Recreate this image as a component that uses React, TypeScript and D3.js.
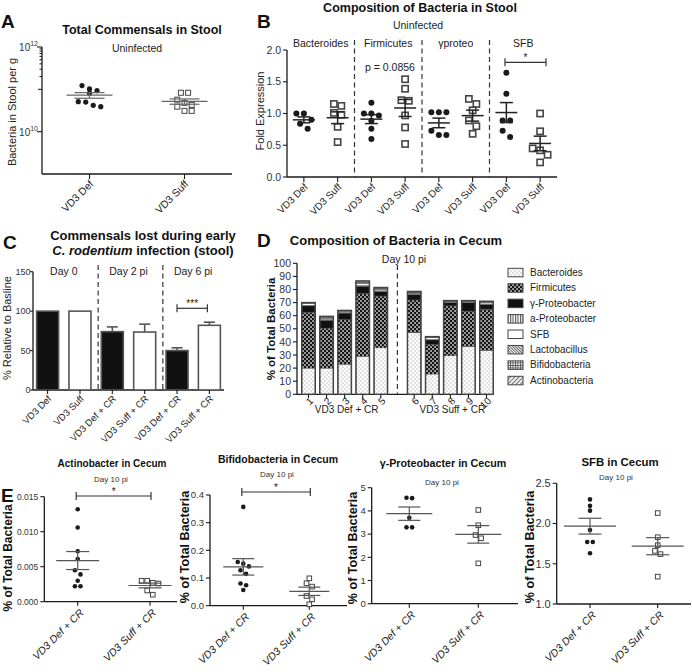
import React from "react";
import * as d3 from "d3";

const FONT = "'Liberation Sans', Arial, Helvetica, sans-serif";
const INK = "#1a1a1a";
const GREY = "#444";
const TICKC = "#333";

// ===== Panel A: total commensals (bacteria per g stool) =====
const aCategories = ["VD3 Def", "VD3 Suff"];
const aDef = [1.23e11, 9.3e10, 8.1e10, 1.02e11, 5.0e10, 3.9e10, 4.2e10, 5.1e10];
const aSuff = [8.3e10, 8.3e10, 4.8e10, 3.9e10, 5.7e10, 3.1e10, 3.1e10, 4.3e10];
const aLabelTicks = [1e10, 1e12];
const aMinorTicks = [2e11, 3e11, 4e11, 5e11, 6e11, 7e11, 8e11, 9e11, 1e11];

// ===== Panel B: composition in stool (fold expression) =====
const bSections = ["Bacteroides", "Firmicutes", "γproteo", "SFB"];
const bCategories = ["VD3 Def", "VD3 Suff"];
const bBacteroidesDef = [1.0, 1.0, 0.9, 0.84, 0.76];
const bBacteroidesSuff = [1.15, 1.12, 1.01, 0.98, 0.79, 0.55];
const bFirmicutesDef = [1.17, 1.0, 1.0, 0.97, 0.88, 0.76, 0.6];
const bFirmicutesSuff = [1.54, 1.39, 1.21, 1.2, 0.97, 0.78, 0.52];
const bGammaDef = [1.02, 1.02, 1.02, 0.73, 0.66, 0.66];
const bGammaSuff = [1.23, 1.15, 1.05, 0.89, 0.8, 0.68];
const bSfbDef = [1.64, 1.31, 0.89, 0.89, 0.73, 0.63];
const bSfbSuff = [1.0, 0.72, 0.45, 0.42, 0.35, 0.23];
const bTicks = [0, 0.5, 1.0, 1.5, 2.0];

// ===== Panel C: commensals lost during infection =====
const cLabels = ["VD3 Def", "VD3 Suff", "VD3 Def + CR", "VD3 Suff + CR", "VD3 Def + CR", "VD3 Suff + CR"];
const cValues = [100, 100, 74, 73.5, 50, 82];
const cErrors = [0, 0, 6, 10, 3.5, 4];
const cSections = ["Day 0", "Day 2 pi", "Day 6 pi"];
const cTicks = [0, 50, 100, 150];

// ===== Panel D: composition in cecum (% of total) =====
const dSamples = ["1", "2", "3", "4", "5", "6", "7", "8", "9", "10"];
const dBacteroides = [20, 20, 23, 29, 35.5, 47, 15.5, 29.5, 36.5, 33.5];
const dFirmicutes = [42.5, 30.5, 34, 48, 39.5, 25, 22.5, 38, 27, 31.5];
const dGammaProteo = [5, 6, 5, 5.5, 3.5, 4, 3.5, 2.5, 6.5, 3.5];
const dAlphaProteo = [0.4, 0.5, 0.4, 0.5, 0.5, 0.5, 0.3, 0.3, 0.3, 0.5];
const dSFB = [1.6, 1.0, 1.0, 1.5, 1.0, 0.5, 1.5, 0.5, 0.7, 1.0];
const dLactobacillus = [0.2, 0.5, 0.3, 0.5, 0.5, 0.5, 0.3, 0.3, 0.2, 0.4];
const dBifidobacteria = [0.2, 0.5, 0.2, 0.5, 0.5, 0.5, 0.2, 0.2, 0.2, 0.3];
const dActinobacteria = [0.1, 0.5, 0.1, 1.0, 0.5, 0.5, 0.2, 0.2, 0.1, 0.3];
const dTaxa = ["Bacteroides", "Firmicutes", "γ-Proteobacter", "a-Proteobacter", "SFB", "Lactobacillus", "Bifidobacteria", "Actinobacteria"];
const dGroups = ["VD3 Def + CR", "VD3 Suff + CR"];
const dTicks = [0, 10, 20, 30, 40, 50, 60, 70, 80, 90, 100];

// ===== Panel E: individual taxa in cecum =====
const eCategories = ["VD3 Def + CR", "VD3 Suff + CR"];
const eActinoDef = [0.0132, 0.0106, 0.0072, 0.0061, 0.0045, 0.0039, 0.003, 0.0022, 0.0022];
const eActinoSuff = [0.003, 0.0027, 0.0026, 0.003, 0.0016, 0.001];
const eBifidoDef = [0.357, 0.158, 0.152, 0.142, 0.128, 0.115, 0.08, 0.074, 0.057];
const eBifidoSuff = [0.099, 0.081, 0.069, 0.035, 0.023, 0.005];
const eGammaDef = [4.55, 4.57, 3.7, 3.29, 3.29];
const eGammaSuff = [4.04, 3.38, 2.96, 2.82, 1.74];
const eSfbDef = [2.3, 2.22, 2.16, 1.92, 1.77, 1.77, 1.63];
const eSfbSuff = [2.13, 1.83, 1.73, 1.66, 1.62, 1.34];
const eActinoTicks = [0, 0.005, 0.01, 0.015];
const eBifidoTicks = [0, 0.1, 0.2, 0.3, 0.4];
const eGammaTicks = [0, 1, 2, 3, 4, 5];
const eSfbTicks = [1.0, 1.5, 2.0, 2.5];

function swarmOffsets(ys: number[], d: number): number[] {
  const idx = d3.range(ys.length).sort((a, b) => ys[a] - ys[b]);
  const out = new Array(ys.length).fill(0);
  let row: number[] = [];
  let rowY = -Infinity;
  const flush = () => {
    row.forEach((i, j) => (out[i] = (j - (row.length - 1) / 2) * d));
  };
  for (const i of idx) {
    if (ys[i] - rowY >= d * 0.85) {
      flush();
      row = [i];
      rowY = ys[i];
    } else row.push(i);
  }
  flush();
  return out;
}

function DotGroup(props: {
  cx: number; vals: number[]; y: (v: number) => number; shape: "dot" | "sq"; r: number;
  meanW: number; semW: number; color: string; lw: number; gap: number; sqStroke?: number;
}) {
  const { cx, vals, y, shape, r, meanW, semW, color, lw, gap } = props;
  const ys = vals.map((v) => y(v));
  const offs = swarmOffsets(ys, gap);
  const m = d3.mean(vals) as number;
  const s = (d3.deviation(vals) as number) / Math.sqrt(vals.length);
  return (
    <g>
      {ys.map((py, i) =>
        shape === "dot" ? (
          <circle key={i} cx={cx + offs[i]} cy={py} r={r} fill={INK} />
        ) : (
          <rect key={i} x={cx + offs[i] - r} y={py - r} width={2 * r} height={2 * r} fill="#fff" stroke={GREY} strokeWidth={props.sqStroke ?? 1.3} />
        )
      )}
      <line x1={cx - meanW / 2} x2={cx + meanW / 2} y1={y(m)} y2={y(m)} stroke={color} strokeWidth={lw} />
      <line x1={cx - semW / 2} x2={cx + semW / 2} y1={y(m + s)} y2={y(m + s)} stroke={color} strokeWidth={lw} />
      <line x1={cx - semW / 2} x2={cx + semW / 2} y1={y(m - s)} y2={y(m - s)} stroke={color} strokeWidth={lw} />
      <line x1={cx} x2={cx} y1={y(m + s)} y2={y(m - s)} stroke={color} strokeWidth={lw} />
    </g>
  );
}

function RotLabel(props: { x: number; y: number; text: string; size: number; italic?: boolean }) {
  return (
    <text
      transform={`translate(${props.x},${props.y}) rotate(-45)`}
      textAnchor="end"
      dy="0.35em"
      fontSize={props.size}
      fontStyle={props.italic ? "italic" : "normal"}
      fill="#222"
    >
      {props.text}
    </text>
  );
}

function Bracket(props: { x1: number; x2: number; y: number; label: string; size: number }) {
  const { x1, x2, y } = props;
  return (
    <g stroke="#333" strokeWidth={1.2}>
      <line x1={x1} x2={x2} y1={y} y2={y} />
      <line x1={x1} x2={x1} y1={y - 4} y2={y + 4} />
      <line x1={x2} x2={x2} y1={y - 4} y2={y + 4} />
      <text x={(x1 + x2) / 2} y={y - 1} textAnchor="middle" fontSize={props.size} stroke="none" fill="#222">
        {props.label}
      </text>
    </g>
  );
}

function EPanel(props: {
  title: string; titleSize: number; titleX: number; titleY: number; dayX: number; dayY: number;
  axisX: number; axisEnd: number; yScale: d3.ScaleLinear<number, number>; ticks: number[];
  fmt: (v: number) => string; tickSize: number; xFirst: number; xLast: number;
  def: number[]; suff: number[]; meanW: number; semW: number; yTitleX: number; yTitleY: number; yTitleSize: number;
  bracket?: { y: number };
}) {
  const p = props;
  const y = p.yScale;
  const [y0, y1] = y.range();
  const x = d3.scalePoint<string>().domain(eCategories).range([p.xFirst, p.xLast]);
  return (
    <g>
      <text x={p.titleX} y={p.titleY} textAnchor="middle" fontWeight="bold" fontSize={p.titleSize} fill="#111">{p.title}</text>
      <text x={p.dayX} y={p.dayY} textAnchor="middle" fontSize={8} fill="#333">Day 10 pi</text>
      <text transform={`translate(${p.yTitleX},${p.yTitleY}) rotate(-90)`} textAnchor="middle" dy="0.35em" fontWeight="bold" fontSize={p.yTitleSize} fill="#111">
        % of Total  Bacteria
      </text>
      <line x1={p.axisX} x2={p.axisX} y1={y1} y2={y0} stroke={INK} strokeWidth={1.3} />
      <line x1={p.axisX} x2={p.axisEnd} y1={y0} y2={y0} stroke={INK} strokeWidth={1.3} />
      {p.ticks.map((t) => (
        <g key={t}>
          <line x1={p.axisX - 4} x2={p.axisX} y1={y(t)} y2={y(t)} stroke={INK} strokeWidth={1.1} />
          <text x={p.axisX - 6} y={y(t)} dy="0.35em" textAnchor="end" fontSize={p.tickSize} fill={TICKC}>{p.fmt(t)}</text>
        </g>
      ))}
      {eCategories.map((c) => (
        <g key={c}>
          <line x1={x(c)} x2={x(c)} y1={y0} y2={y0 + 4} stroke={INK} strokeWidth={1.1} />
          <RotLabel x={(x(c) as number) + 4} y={y0 + 9} text={c} size={10.5} italic />
        </g>
      ))}
      <DotGroup cx={x(eCategories[0]) as number} vals={p.def} y={y} shape="dot" r={2.3} meanW={p.meanW} semW={p.semW} color="#555" lw={1.2} gap={5.6} />
      <DotGroup cx={x(eCategories[1]) as number} vals={p.suff} y={y} shape="sq" r={2.3} meanW={p.meanW} semW={p.semW} color="#555" lw={1.2} gap={5.6} sqStroke={1} />
      {p.bracket && (
        <Bracket x1={(x(eCategories[0]) as number) - 1.5} x2={(x(eCategories[1]) as number) + 1} y={p.bracket.y} label="*" size={10} />
      )}
    </g>
  );
}

export default function App() {
  // ---------- Panel A ----------
  const aY = d3.scaleLog().domain([1e9, 1e12]).range([174, 47]);
  const aX = d3.scalePoint<string>().domain(aCategories).range([42, 232]).padding(0.5);

  // ---------- Panel B ----------
  const bY = d3.scaleLinear().domain([0, 2]).range([177, 50]);
  const bKeys = bSections.flatMap((s) => bCategories.map((c) => s + "|" + c));
  const bX = d3.scalePoint<string>().domain(bKeys).range([287, 557]).padding(0.5);
  const bData: number[][] = [bBacteroidesDef, bBacteroidesSuff, bFirmicutesDef, bFirmicutesSuff, bGammaDef, bGammaSuff, bSfbDef, bSfbSuff];
  const bStep = bX.step();

  // ---------- Panel C ----------
  const cY = d3.scaleLinear().domain([0, 150]).range([390, 271.7]);
  const cIdx = cLabels.map((_, i) => String(i));
  const cX = d3.scaleBand<string>().domain(cIdx).range([35, 222]).paddingInner(0.32).paddingOuter(0.05);
  const cBw = cX.bandwidth();
  const cStep = cX.step();

  // ---------- Panel D ----------
  const dY = d3.scaleLinear().domain([0, 100]).range([394.3, 263.3]);
  const dPos = d3.scaleLinear().domain([0, 9.85]).range([308.5, 486.5]);
  const dIndex = dSamples.map((_, i) => (i < 5 ? i : i + 0.85));
  const dRows = dSamples.map((s, i) => ({
    sample: s,
    "Bacteroides": dBacteroides[i],
    "Firmicutes": dFirmicutes[i],
    "γ-Proteobacter": dGammaProteo[i],
    "a-Proteobacter": dAlphaProteo[i],
    "SFB": dSFB[i],
    "Lactobacillus": dLactobacillus[i],
    "Bifidobacteria": dBifidobacteria[i],
    "Actinobacteria": dActinobacteria[i],
  }));
  const dStack = d3.stack<any>().keys(dTaxa)(dRows);
  const dFills = ["url(#pBact)", "url(#pFirm)", "#111", "url(#pAlpha)", "#fff", "url(#pLacto)", "url(#pBifido)", "url(#pActino)"];
  const dBw = 13.5;

  return (
    <svg width={692} height={672} style={{ position: "absolute", left: 0, top: 0, background: "#fff" }} fontFamily={FONT}>
      <defs>
        <pattern id="pBact" width="4" height="4" patternUnits="userSpaceOnUse">
          <rect width="4" height="4" fill="#fff" />
          <rect x="0.5" y="0.5" width="1" height="1" fill="#8a8a8a" />
          <rect x="2.5" y="2.5" width="1" height="1" fill="#8a8a8a" />
        </pattern>
        <pattern id="pFirm" width="4" height="4" patternUnits="userSpaceOnUse">
          <rect width="4" height="4" fill="#151515" />
          <rect x="0.3" y="0.3" width="1.5" height="1.5" fill="#fff" />
          <rect x="2.3" y="2.3" width="1.5" height="1.5" fill="#fff" />
        </pattern>
        <pattern id="pAlpha" width="2.5" height="4" patternUnits="userSpaceOnUse">
          <rect width="2.5" height="4" fill="#fff" />
          <line x1="0.6" x2="0.6" y1="0" y2="4" stroke="#333" strokeWidth="0.9" />
        </pattern>
        <pattern id="pLacto" width="2" height="2" patternUnits="userSpaceOnUse" patternTransform="rotate(45)">
          <rect width="2" height="2" fill="#fff" />
          <line x1="0" x2="2" y1="0.5" y2="0.5" stroke="#555" strokeWidth="0.9" />
        </pattern>
        <pattern id="pBifido" width="2.5" height="2.5" patternUnits="userSpaceOnUse">
          <rect width="2.5" height="2.5" fill="#fff" />
          <line x1="0.5" x2="0.5" y1="0" y2="2.5" stroke="#444" strokeWidth="0.8" />
          <line x1="0" x2="2.5" y1="0.5" y2="0.5" stroke="#444" strokeWidth="0.8" />
        </pattern>
        <pattern id="pActino" width="3" height="3" patternUnits="userSpaceOnUse" patternTransform="rotate(-45)">
          <rect width="3" height="3" fill="#fff" />
          <line x1="0" x2="3" y1="0.7" y2="0.7" stroke="#444" strokeWidth="0.9" />
        </pattern>
      </defs>

      {/* ================= Panel A ================= */}
      <text x={1} y={28} fontWeight="bold" fontSize={19} fill="#111">A</text>
      <text x={142} y={34} textAnchor="middle" fontWeight="bold" fontSize={12.5} fill="#111">Total Commensals in Stool</text>
      <text x={137} y={52} textAnchor="middle" fontSize={10.5} fill="#222">Uninfected</text>
      <text transform="translate(12,112) rotate(-90)" textAnchor="middle" dy="0.35em" fontSize={11} fill="#222">Bacteria in Stool per g</text>
      <line x1={42} x2={42} y1={47} y2={174} stroke={INK} strokeWidth={1.3} />
      <line x1={42} x2={232} y1={174} y2={174} stroke={INK} strokeWidth={1.3} />
      {aMinorTicks.map((t) => (
        <line key={t} x1={42 - (t === 1e11 ? 4 : 2.5)} x2={42} y1={aY(t)} y2={aY(t)} stroke={INK} strokeWidth={1} />
      ))}
      {aLabelTicks.map((t) => (
        <g key={t}>
          <line x1={37} x2={42} y1={aY(t)} y2={aY(t)} stroke={INK} strokeWidth={1.1} />
          <text x={38} y={aY(t) + 4} textAnchor="end" fontSize={10} fill={TICKC}>
            10<tspan dy={-5} fontSize={7}>{Math.round(Math.log10(t))}</tspan>
          </text>
        </g>
      ))}
      {aCategories.map((c) => (
        <g key={c}>
          <line x1={aX(c)} x2={aX(c)} y1={174} y2={179} stroke={INK} strokeWidth={1.1} />
          <RotLabel x={(aX(c) as number) + 2} y={182} text={c} size={10.5} />
        </g>
      ))}
      <DotGroup cx={aX("VD3 Def") as number} vals={aDef} y={aY} shape="dot" r={2.6} meanW={46} semW={30} color="#666" lw={1.2} gap={7.5} />
      <DotGroup cx={aX("VD3 Suff") as number} vals={aSuff} y={aY} shape="sq" r={2.5} meanW={46} semW={30} color="#666" lw={1.2} gap={7.2} sqStroke={1} />

      {/* ================= Panel B ================= */}
      <text x={257} y={28} fontWeight="bold" fontSize={19} fill="#111">B</text>
      <text x={420} y={12} textAnchor="middle" fontWeight="bold" fontSize={12.5} fill="#111">Composition of Bacteria in Stool</text>
      <text x={418} y={29} textAnchor="middle" fontSize={10.5} fill="#222">Uninfected</text>
      <text transform="translate(260,111) rotate(-90)" textAnchor="middle" dy="0.35em" fontSize={11} fill="#222">Fold Expression</text>
      <line x1={287} x2={287} y1={50} y2={177} stroke={INK} strokeWidth={1.3} />
      <line x1={287} x2={557} y1={177} y2={177} stroke={INK} strokeWidth={1.3} />
      {bTicks.map((t) => (
        <g key={t}>
          <line x1={283} x2={287} y1={bY(t)} y2={bY(t)} stroke={INK} strokeWidth={1.1} />
          <text x={281} y={bY(t)} dy="0.35em" textAnchor="end" fontSize={10.5} fill={TICKC}>{t.toFixed(1)}</text>
        </g>
      ))}
      {bSections.map((s, i) => {
        const cx = ((bX(s + "|" + bCategories[0]) as number) + (bX(s + "|" + bCategories[1]) as number)) / 2;
        const bx = (bX(s + "|" + bCategories[0]) as number) - bStep / 2;
        return (
          <g key={s}>
            <text x={cx} y={47} textAnchor="middle" fontSize={10.5} fill="#222">{s}</text>
            {i > 0 && <line x1={bx} x2={bx} y1={40} y2={177} stroke="#333" strokeWidth={1.2} strokeDasharray="5,3.5" />}
          </g>
        );
      })}
      {bKeys.map((k, i) => (
        <g key={k}>
          <line x1={bX(k)} x2={bX(k)} y1={177} y2={182} stroke={INK} strokeWidth={1.1} />
          <RotLabel x={(bX(k) as number) + 2} y={185} text={k.split("|")[1]} size={10} />
          <DotGroup cx={bX(k) as number} vals={bData[i]} y={bY} shape={i % 2 === 0 ? "dot" : "sq"} r={i % 2 === 0 ? 3 : 3.1} meanW={22} semW={13} color="#222" lw={1.5} gap={7.5} sqStroke={1.6} />
        </g>
      ))}
      <text x={390} y={71} textAnchor="middle" fontSize={10.5} fill="#222">p = 0.0856</text>
      <Bracket x1={505} x2={546} y={62.3} label="*" size={10} />

      {/* ================= Panel C ================= */}
      <text x={3} y={249} fontWeight="bold" fontSize={19} fill="#111">C</text>
      <text x={143} y={239.5} textAnchor="middle" fontWeight="bold" fontSize={13} fill="#111">Commensals lost during early</text>
      <text x={143} y={254.5} textAnchor="middle" fontWeight="bold" fontSize={13} fill="#111">
        <tspan fontStyle="italic">C. rodentium</tspan> infection (stool)
      </text>
      <text transform="translate(7,328) rotate(-90)" textAnchor="middle" dy="0.35em" fontSize={11} fill="#222">% Relative to Basline</text>
      <line x1={33} x2={33} y1={271.7} y2={390} stroke={INK} strokeWidth={1.3} />
      <line x1={33} x2={224} y1={390} y2={390} stroke={INK} strokeWidth={1.3} />
      {cTicks.map((t) => (
        <g key={t}>
          <line x1={30} x2={33} y1={cY(t)} y2={cY(t)} stroke={INK} strokeWidth={1.1} />
          <text x={30.5} y={cY(t)} dy="0.35em" textAnchor="end" fontSize={9} fill={TICKC}>{t}</text>
        </g>
      ))}
      {cIdx.map((k, i) => {
        const x0 = cX(k) as number;
        const cx = x0 + cBw / 2;
        const top = cY(cValues[i]);
        const err = cY(cValues[i] + cErrors[i]);
        return (
          <g key={k}>
            <rect x={x0} y={top} width={cBw} height={390 - top} fill={i % 2 === 0 ? "#111" : "#fff"} stroke="#555" strokeWidth={1.6} />
            {cErrors[i] > 0 && (
              <g stroke="#555" strokeWidth={1.6}>
                <line x1={cx} x2={cx} y1={top} y2={err} />
                <line x1={cx - 5.5} x2={cx + 5.5} y1={err} y2={err} />
              </g>
            )}
            <line x1={cx} x2={cx} y1={390} y2={394} stroke={INK} strokeWidth={1.1} />
            <RotLabel x={cx + 2} y={397} text={cLabels[i]} size={9.5} />
          </g>
        );
      })}
      {cSections.map((s, j) => {
        const a = (cX(String(2 * j)) as number) + cBw / 2;
        const b = (cX(String(2 * j + 1)) as number) + cBw / 2;
        const sep = (cX(String(2 * j)) as number) - (cStep - cBw) / 2 + 2;
        return (
          <g key={s}>
            <text x={(a + b) / 2} y={275} textAnchor="middle" fontSize={10.5} fill="#222">{s}</text>
            {j > 0 && <line x1={sep} x2={sep} y1={265} y2={390} stroke="#333" strokeWidth={1.2} strokeDasharray="5,3.5" />}
          </g>
        );
      })}
      <Bracket x1={(cX("4") as number) + cBw / 2} x2={(cX("5") as number) + cBw / 2 - 2} y={308.3} label="***" size={10} />

      {/* ================= Panel D ================= */}
      <text x={257} y={247} fontWeight="bold" fontSize={19} fill="#111">D</text>
      <text x={396} y={244.5} textAnchor="middle" fontWeight="bold" fontSize={13} fill="#111">Composition of Bacteria in Cecum</text>
      <text x={404} y={263} textAnchor="middle" fontSize={10.5} fill="#222">Day 10 pi</text>
      <text transform="translate(271,329) rotate(-90)" textAnchor="middle" dy="0.35em" fontWeight="bold" fontSize={11.5} fill="#111">% of Total  Bacteria</text>
      <line x1={297} x2={297} y1={263.3} y2={394.3} stroke={INK} strokeWidth={1.3} />
      <line x1={297} x2={494} y1={394.3} y2={394.3} stroke={INK} strokeWidth={1.3} />
      {dTicks.map((t) => (
        <g key={t}>
          <line x1={293} x2={297} y1={dY(t)} y2={dY(t)} stroke={INK} strokeWidth={1.1} />
          <text x={291} y={dY(t)} dy="0.35em" textAnchor="end" fontSize={10.5} fill={TICKC}>{t}</text>
        </g>
      ))}
      <line x1={dPos(4.92)} x2={dPos(4.92)} y1={265} y2={394.3} stroke="#333" strokeWidth={1.2} strokeDasharray="5,3.5" />
      {dStack.map((layer, li) => (
        <g key={dTaxa[li]}>
          {layer.map((seg, i) => (
            <rect key={i} x={dPos(dIndex[i]) - dBw / 2} y={dY(seg[1])} width={dBw} height={Math.max(0, dY(seg[0]) - dY(seg[1]))} fill={dFills[li]} stroke="#555" strokeWidth={0.5} />
          ))}
        </g>
      ))}
      {dSamples.map((s, i) => {
        const top = dStack[dStack.length - 1][i][1];
        const cx = dPos(dIndex[i]);
        return (
          <g key={s}>
            <rect x={cx - dBw / 2} y={dY(top)} width={dBw} height={394.3 - dY(top)} fill="none" stroke="#444" strokeWidth={1.5} />
            <line x1={cx} x2={cx} y1={394.3} y2={398} stroke={INK} strokeWidth={1.1} />
            <RotLabel x={cx + 3} y={399} text={s} size={10} />
          </g>
        );
      })}
      {dGroups.map((g, j) => {
        const a = dPos(dIndex[j * 5]);
        const b = dPos(dIndex[j * 5 + 4]);
        return (
          <text key={g} x={(a + b) / 2 + 2} y={413} textAnchor="middle" fontSize={10} fill="#222">{g}</text>
        );
      })}
      {dTaxa.map((t, i) => {
        const cy = 272.3 + i * 15.43;
        return (
          <g key={t}>
            <rect x={508} y={cy - 4} width={15} height={8.5} fill={dFills[i]} stroke="#444" strokeWidth={1} />
            <text x={530} y={cy} dy="0.35em" fontSize={10} fill="#222">{t}</text>
          </g>
        );
      })}

      {/* ================= Panel E ================= */}
      <text x={1} y={502} fontWeight="bold" fontSize={19} fill="#111">E</text>
      <EPanel
        title="Actinobacter in Cecum" titleSize={10} titleX={112} titleY={467} dayX={111} dayY={482}
        axisX={44.3} axisEnd={177} yScale={d3.scaleLinear().domain([0, 0.015]).range([601.7, 496.7])}
        ticks={eActinoTicks} fmt={(v) => v.toFixed(3)} tickSize={8.5} xFirst={77.7} xLast={150}
        def={eActinoDef} suff={eActinoSuff} meanW={43} semW={23} yTitleX={8} yTitleY={558} yTitleSize={12}
        bracket={{ y: 496 }}
      />
      <EPanel
        title="Bifidobacteria in Cecum" titleSize={10.5} titleX={278} titleY={463} dayX={277} dayY={477}
        axisX={210} axisEnd={347} yScale={d3.scaleLinear().domain([0, 0.4]).range([605.7, 495])}
        ticks={eBifidoTicks} fmt={(v) => v.toFixed(1)} tickSize={9.5} xFirst={243.3} xLast={309.3}
        def={eBifidoDef} suff={eBifidoSuff} meanW={40} semW={22} yTitleX={185} yTitleY={547} yTitleSize={12.6}
        bracket={{ y: 492 }}
      />
      <EPanel
        title="γ-Proteobacter in Cecum" titleSize={10.7} titleX={443} titleY={466.5} dayX={442} dayY={485}
        axisX={371.7} axisEnd={518} yScale={d3.scaleLinear().domain([0, 5]).range([603.7, 487.7])}
        ticks={eGammaTicks} fmt={(v) => String(v)} tickSize={9.5} xFirst={409.3} xLast={478.3}
        def={eGammaDef} suff={eGammaSuff} meanW={46} semW={22} yTitleX={353} yTitleY={548} yTitleSize={12.6}
      />
      <EPanel
        title="SFB in Cecum" titleSize={11.4} titleX={620} titleY={466} dayX={616} dayY={480}
        axisX={556.7} axisEnd={691} yScale={d3.scaleLinear().domain([1, 2.5]).range([604, 483.3])}
        ticks={eSfbTicks} fmt={(v) => v.toFixed(1)} tickSize={11} xFirst={590} xLast={657.7}
        def={eSfbDef} suff={eSfbSuff} meanW={52} semW={23} yTitleX={530} yTitleY={547} yTitleSize={12.6}
      />
    </svg>
  );
}
